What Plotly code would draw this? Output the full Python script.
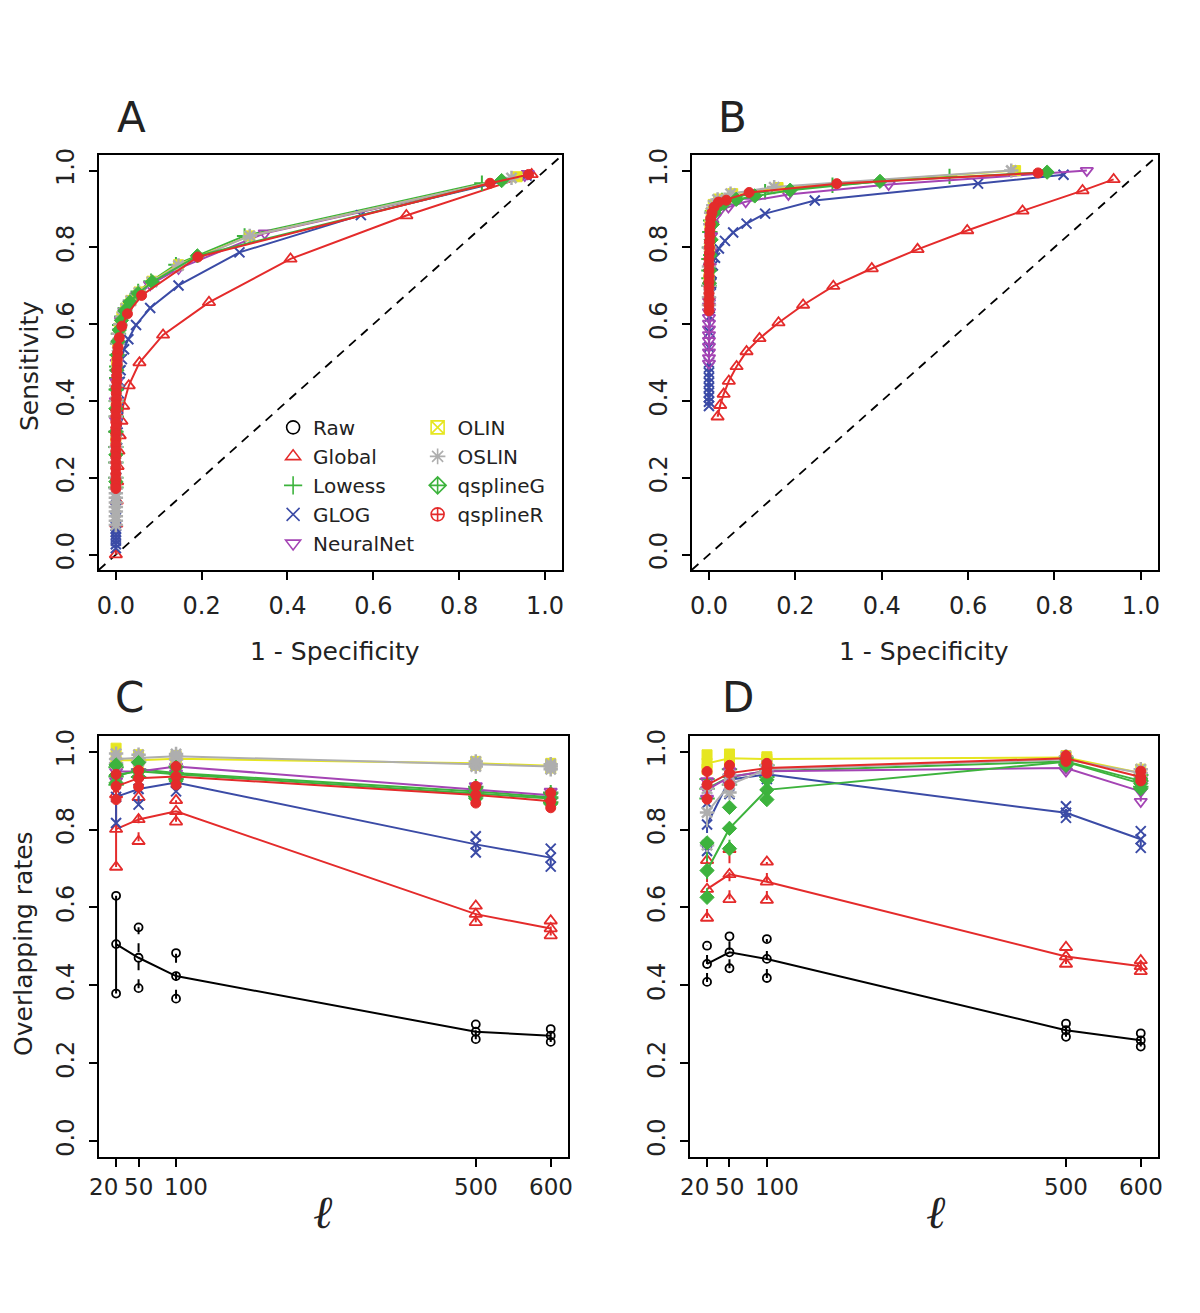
import plotly.graph_objects as go

# ---------------- data ----------------
METHODS = ["Raw", "Global", "Lowess", "GLOG", "NeuralNet", "OLIN", "OSLIN", "qsplineG", "qsplineR"]

# Panel A (ROC)
A_GLOBAL_X = [0.969, 0.677, 0.407, 0.217, 0.110, 0.055, 0.030, 0.017, 0.013, 0.009, 0.006, 0.004, 0.003, 0.002, 0.001, 0.000]
A_GLOBAL_Y = [0.990, 0.883, 0.770, 0.657, 0.572, 0.500, 0.440, 0.387, 0.348, 0.310, 0.270, 0.230, 0.190, 0.140, 0.080, 0.000]
A_LOWESS_X = [0.853, 0.300, 0.140, 0.082, 0.052, 0.034, 0.022, 0.014, 0.009, 0.006, 0.004, 0.003, 0.002, 0.002, 0.001, 0.001, 0.001, 0.000, 0.000, 0.000, 0.000, 0.000]
A_LOWESS_Y = [0.967, 0.830, 0.755, 0.712, 0.685, 0.662, 0.642, 0.620, 0.598, 0.575, 0.550, 0.520, 0.490, 0.460, 0.430, 0.400, 0.360, 0.320, 0.280, 0.240, 0.200, 0.175]
A_GLOG_X = [0.957, 0.571, 0.288, 0.146, 0.080, 0.047, 0.029, 0.019, 0.014, 0.011, 0.009, 0.007, 0.005, 0.004, 0.003, 0.002, 0.001, 0.000, 0.000, 0.000, 0.000, 0.000, 0.000, 0.000, 0.000, 0.000, 0.000, 0.000]
A_GLOG_Y = [0.987, 0.884, 0.787, 0.701, 0.642, 0.598, 0.561, 0.535, 0.509, 0.480, 0.450, 0.420, 0.380, 0.340, 0.300, 0.250, 0.200, 0.150, 0.120, 0.095, 0.075, 0.068, 0.060, 0.052, 0.044, 0.036, 0.027, 0.017]
A_NEURALNET_X = [0.960, 0.953, 0.347, 0.146, 0.080, 0.050, 0.032, 0.020, 0.012, 0.007, 0.004, 0.002, 0.001, 0.000, 0.000]
A_NEURALNET_Y = [0.992, 0.987, 0.837, 0.745, 0.703, 0.675, 0.653, 0.633, 0.610, 0.580, 0.550, 0.500, 0.450, 0.400, 0.350]
A_OLIN_X = [0.935, 0.312, 0.146, 0.084, 0.054, 0.035, 0.023, 0.014, 0.008, 0.004, 0.002, 0.001, 0.000]
A_OLIN_Y = [0.984, 0.830, 0.755, 0.712, 0.684, 0.662, 0.642, 0.620, 0.590, 0.550, 0.500, 0.400, 0.300]
A_OSLIN_X = [0.922, 0.312, 0.146, 0.084, 0.054, 0.035, 0.023, 0.015, 0.010, 0.006, 0.004, 0.003, 0.002, 0.001, 0.001,
             0.000, 0.000, 0.000, 0.000, 0.000, 0.000, 0.000, 0.000, 0.000, 0.000, 0.000, 0.000, 0.000, 0.000]
A_OSLIN_Y = [0.981, 0.830, 0.753, 0.710, 0.682, 0.661, 0.641, 0.620, 0.600, 0.575, 0.550, 0.520, 0.480, 0.440, 0.400,
             0.360, 0.320, 0.280, 0.240, 0.200, 0.172, 0.160, 0.148, 0.136, 0.124, 0.112, 0.100, 0.088, 0.077]
A_QSPLINEG_X = [0.899, 0.190, 0.085, 0.052, 0.033, 0.021, 0.013, 0.008, 0.005, 0.003, 0.002, 0.001, 0.000, 0.000, 0.000, 0.000]
A_QSPLINEG_Y = [0.974, 0.778, 0.710, 0.680, 0.658, 0.635, 0.610, 0.585, 0.555, 0.520, 0.480, 0.430, 0.380, 0.320, 0.260, 0.190]
A_QSPLINER_X = [0.962, 0.872, 0.191, 0.060, 0.027, 0.014, 0.008, 0.005,
                0.004, 0.003, 0.003, 0.002, 0.002, 0.002, 0.001, 0.001, 0.001, 0.001,
                0.000, 0.000, 0.000, 0.000, 0.000, 0.000, 0.000, 0.000, 0.000, 0.000, 0.000, 0.000, 0.000, 0.000, 0.000]
A_QSPLINER_Y = [0.990, 0.967, 0.775, 0.675, 0.627, 0.595, 0.565, 0.540,
                0.525, 0.510, 0.495, 0.480, 0.465, 0.450, 0.435, 0.420, 0.405, 0.390,
                0.375, 0.360, 0.345, 0.330, 0.315, 0.300, 0.285, 0.270, 0.255, 0.240, 0.225, 0.210, 0.195, 0.180, 0.172]

# Panel B (ROC)
B_GLOBAL_X = [0.937, 0.865, 0.726, 0.598, 0.483, 0.377, 0.288, 0.218, 0.161, 0.117, 0.087, 0.064, 0.046, 0.034, 0.026, 0.020]
B_GLOBAL_Y = [0.977, 0.948, 0.895, 0.844, 0.795, 0.745, 0.699, 0.650, 0.604, 0.563, 0.529, 0.490, 0.452, 0.418, 0.389, 0.359]
B_LOWESS_X = [0.557, 0.286, 0.130, 0.060, 0.030, 0.015, 0.008, 0.004, 0.002, 0.001, 0.000, 0.000, 0.000, 0.000]
B_LOWESS_Y = [0.985, 0.962, 0.945, 0.932, 0.922, 0.910, 0.895, 0.870, 0.840, 0.800, 0.770, 0.740, 0.720, 0.700]
B_GLOG_X = [0.821, 0.623, 0.245, 0.130, 0.087, 0.056, 0.037, 0.023, 0.014, 0.009, 0.006, 0.005, 0.004, 0.003, 0.002, 0.001,
            0.000, 0.000, 0.000, 0.000, 0.000, 0.000, 0.000, 0.000, 0.000, 0.000, 0.000]
B_GLOG_Y = [0.989, 0.966, 0.922, 0.888, 0.862, 0.839, 0.817, 0.797, 0.773, 0.753, 0.732, 0.706, 0.680, 0.650, 0.620, 0.580,
            0.540, 0.500, 0.487, 0.474, 0.461, 0.448, 0.435, 0.422, 0.410, 0.398, 0.387]
B_NEURALNET_X = [0.875, 0.416, 0.184, 0.085, 0.045, 0.025, 0.014, 0.008, 0.005, 0.003, 0.002, 0.001, 0.000,
                 0.000, 0.000, 0.000, 0.000, 0.000, 0.000, 0.000, 0.000, 0.000, 0.000, 0.000]
B_NEURALNET_Y = [1.000, 0.964, 0.938, 0.919, 0.905, 0.896, 0.880, 0.860, 0.830, 0.790, 0.750, 0.700, 0.660,
                 0.647, 0.632, 0.617, 0.602, 0.587, 0.572, 0.557, 0.542, 0.527, 0.512, 0.498]
B_OLIN_X = [0.710, 0.160, 0.055, 0.022, 0.010, 0.005, 0.002, 0.001, 0.000]
B_OLIN_Y = [1.000, 0.956, 0.940, 0.926, 0.912, 0.890, 0.860, 0.800, 0.720]
B_OSLIN_X = [0.700, 0.151, 0.050, 0.020, 0.010, 0.005, 0.003, 0.001, 0.000, 0.000, 0.000, 0.000]
B_OSLIN_Y = [1.000, 0.957, 0.940, 0.925, 0.910, 0.890, 0.860, 0.800, 0.750, 0.700, 0.670, 0.650]
B_QSPLINEG_X = [0.783, 0.396, 0.188, 0.106, 0.063, 0.035, 0.020, 0.012, 0.008, 0.005, 0.003, 0.002, 0.001]
B_QSPLINEG_Y = [0.996, 0.972, 0.949, 0.934, 0.925, 0.915, 0.905, 0.890, 0.860, 0.820, 0.780, 0.740, 0.707]
B_QSPLINER_X = [0.762, 0.296, 0.093, 0.040, 0.022, 0.012, 0.007, 0.004, 0.003, 0.002, 0.002, 0.001, 0.001, 0.001,
                0.000, 0.000, 0.000, 0.000, 0.000, 0.000, 0.000, 0.000, 0.000, 0.000]
B_QSPLINER_Y = [0.994, 0.966, 0.943, 0.923, 0.918, 0.905, 0.890, 0.875, 0.860, 0.845, 0.830, 0.815, 0.800, 0.785,
                0.770, 0.755, 0.740, 0.725, 0.710, 0.695, 0.680, 0.665, 0.650, 0.635]

# Panels C and D (overlapping rates vs l)
L_VALUES = [20, 50, 100, 500, 600]
L_TICKS = ["20", "50", "100", "500", "600"]

C_RAW = [0.506, 0.471, 0.424, 0.281, 0.271]
C_RAW_LO = [0.379, 0.393, 0.366, 0.262, 0.255]
C_RAW_HI = [0.630, 0.549, 0.483, 0.300, 0.288]
C_GLOBAL = [0.801, 0.826, 0.847, 0.583, 0.546]
C_GLOBAL_LO = [0.704, 0.770, 0.820, 0.562, 0.528]
C_GLOBAL_HI = [0.890, 0.883, 0.875, 0.604, 0.566]
C_LOWESS = [0.936, 0.955, 0.945, 0.898, 0.883]
C_LOWESS_LO = [0.915, 0.935, 0.930, 0.885, 0.870]
C_LOWESS_HI = [0.960, 0.975, 0.962, 0.910, 0.895]
C_GLOG = [0.884, 0.904, 0.921, 0.762, 0.728]
C_GLOG_LO = [0.817, 0.864, 0.898, 0.741, 0.705]
C_GLOG_HI = [0.950, 0.945, 0.945, 0.783, 0.751]
C_NEURALNET = [0.949, 0.949, 0.962, 0.902, 0.888]
C_NEURALNET_LO = [0.925, 0.930, 0.945, 0.890, 0.875]
C_NEURALNET_HI = [0.965, 0.965, 0.975, 0.912, 0.898]
C_OLIN = [0.978, 0.978, 0.982, 0.970, 0.964]
C_OLIN_LO = [0.970, 0.972, 0.976, 0.965, 0.958]
C_OLIN_HI = [1.009, 0.992, 0.990, 0.975, 0.970]
C_OSLIN = [0.981, 0.983, 0.988, 0.968, 0.962]
C_OSLIN_LO = [0.970, 0.975, 0.980, 0.962, 0.955]
C_OSLIN_HI = [0.995, 0.992, 0.994, 0.975, 0.968]
C_QSPLINEG = [0.940, 0.950, 0.942, 0.893, 0.880]
C_QSPLINEG_LO = [0.920, 0.935, 0.925, 0.880, 0.866]
C_QSPLINEG_HI = [0.966, 0.972, 0.960, 0.906, 0.892]
C_QSPLINER = [0.911, 0.932, 0.936, 0.889, 0.873]
C_QSPLINER_LO = [0.877, 0.910, 0.915, 0.868, 0.856]
C_QSPLINER_HI = [0.942, 0.952, 0.962, 0.911, 0.894]

D_RAW = [0.455, 0.485, 0.468, 0.285, 0.259]
D_RAW_LO = [0.409, 0.444, 0.419, 0.268, 0.243]
D_RAW_HI = [0.502, 0.526, 0.519, 0.302, 0.277]
D_GLOBAL = [0.647, 0.685, 0.666, 0.474, 0.449]
D_GLOBAL_LO = [0.573, 0.621, 0.619, 0.455, 0.436]
D_GLOBAL_HI = [0.721, 0.749, 0.717, 0.498, 0.464]
D_LOWESS = [0.905, 0.935, 0.950, 0.975, 0.925]
D_LOWESS_LO = [0.880, 0.915, 0.935, 0.968, 0.910]
D_LOWESS_HI = [0.930, 0.955, 0.965, 0.985, 0.940]
D_GLOG = [0.813, 0.928, 0.942, 0.843, 0.775]
D_GLOG_LO = [0.745, 0.891, 0.930, 0.830, 0.753]
D_GLOG_HI = [0.868, 0.950, 0.955, 0.860, 0.796]
D_NEURALNET = [0.902, 0.935, 0.950, 0.958, 0.898]
D_NEURALNET_LO = [0.880, 0.915, 0.940, 0.950, 0.872]
D_NEURALNET_HI = [0.925, 0.950, 0.960, 0.965, 0.915]
D_OLIN = [0.970, 0.983, 0.981, 0.985, 0.945]
D_OLIN_LO = [0.955, 0.975, 0.975, 0.980, 0.935]
D_OLIN_HI = [0.992, 0.994, 0.987, 0.990, 0.955]
D_OSLIN = [0.844, 0.915, 0.955, 0.980, 0.945]
D_OSLIN_LO = [0.760, 0.895, 0.945, 0.975, 0.935]
D_OSLIN_HI = [0.905, 0.940, 0.965, 0.988, 0.955]
D_QSPLINEG = [0.695, 0.803, 0.902, 0.974, 0.918]
D_QSPLINEG_LO = [0.626, 0.751, 0.877, 0.965, 0.905]
D_QSPLINEG_HI = [0.766, 0.857, 0.928, 0.982, 0.930]
D_QSPLINER = [0.915, 0.945, 0.958, 0.983, 0.935]
D_QSPLINER_LO = [0.878, 0.915, 0.945, 0.975, 0.925]
D_QSPLINER_HI = [0.949, 0.965, 0.970, 0.990, 0.950]

ROC_TICKS = [0.0, 0.2, 0.4, 0.6, 0.8, 1.0]
ROC_TICKTEXT = ["0.0", "0.2", "0.4", "0.6", "0.8", "1.0"]

# ---------------- styles ----------------
COLORS = {"Raw": "#000000", "Global": "#E42B2B", "Lowess": "#3DB33D", "GLOG": "#3B4BA6",
          "NeuralNet": "#A444B4", "OLIN": "#E6E620", "OSLIN": "#AEAEAE", "qsplineG": "#3DB33D",
          "qsplineR": "#E42B2B"}
DATA_SYM = {"Raw": ("circle-open", 8, 1.8), "Global": ("triangle-up-open", 11, 1.8),
            "Lowess": ("cross-thin-open", 11, 2), "GLOG": ("x-thin-open", 10, 2),
            "NeuralNet": ("triangle-down-open", 11, 1.8), "OLIN": ("square", 10, 1),
            "OSLIN": ("asterisk-open", 12, 2.5), "qsplineG": ("diamond", 11, 1),
            "qsplineR": ("circle", 10, 1)}
LEG_SYM = {"Raw": "circle-open", "Global": "triangle-up-open", "Lowess": "cross-thin-open",
           "GLOG": "x-thin-open", "NeuralNet": "triangle-down-open", "OLIN": "square-x-open",
           "OSLIN": "asterisk-open", "qsplineG": "diamond-cross-open", "qsplineR": "circle-cross-open"}

ROC_A = {"Global": (A_GLOBAL_X, A_GLOBAL_Y), "Lowess": (A_LOWESS_X, A_LOWESS_Y), "GLOG": (A_GLOG_X, A_GLOG_Y),
         "NeuralNet": (A_NEURALNET_X, A_NEURALNET_Y), "OLIN": (A_OLIN_X, A_OLIN_Y), "OSLIN": (A_OSLIN_X, A_OSLIN_Y),
         "qsplineG": (A_QSPLINEG_X, A_QSPLINEG_Y), "qsplineR": (A_QSPLINER_X, A_QSPLINER_Y)}
ROC_B = {"Global": (B_GLOBAL_X, B_GLOBAL_Y), "Lowess": (B_LOWESS_X, B_LOWESS_Y), "GLOG": (B_GLOG_X, B_GLOG_Y),
         "NeuralNet": (B_NEURALNET_X, B_NEURALNET_Y), "OLIN": (B_OLIN_X, B_OLIN_Y), "OSLIN": (B_OSLIN_X, B_OSLIN_Y),
         "qsplineG": (B_QSPLINEG_X, B_QSPLINEG_Y), "qsplineR": (B_QSPLINER_X, B_QSPLINER_Y)}
OVL_C = {"Raw": (C_RAW, C_RAW_LO, C_RAW_HI), "Global": (C_GLOBAL, C_GLOBAL_LO, C_GLOBAL_HI),
         "Lowess": (C_LOWESS, C_LOWESS_LO, C_LOWESS_HI), "GLOG": (C_GLOG, C_GLOG_LO, C_GLOG_HI),
         "NeuralNet": (C_NEURALNET, C_NEURALNET_LO, C_NEURALNET_HI), "OLIN": (C_OLIN, C_OLIN_LO, C_OLIN_HI),
         "OSLIN": (C_OSLIN, C_OSLIN_LO, C_OSLIN_HI), "qsplineG": (C_QSPLINEG, C_QSPLINEG_LO, C_QSPLINEG_HI),
         "qsplineR": (C_QSPLINER, C_QSPLINER_LO, C_QSPLINER_HI)}
OVL_D = {"Raw": (D_RAW, D_RAW_LO, D_RAW_HI), "Global": (D_GLOBAL, D_GLOBAL_LO, D_GLOBAL_HI),
         "Lowess": (D_LOWESS, D_LOWESS_LO, D_LOWESS_HI), "GLOG": (D_GLOG, D_GLOG_LO, D_GLOG_HI),
         "NeuralNet": (D_NEURALNET, D_NEURALNET_LO, D_NEURALNET_HI), "OLIN": (D_OLIN, D_OLIN_LO, D_OLIN_HI),
         "OSLIN": (D_OSLIN, D_OSLIN_LO, D_OSLIN_HI), "qsplineG": (D_QSPLINEG, D_QSPLINEG_LO, D_QSPLINEG_HI),
         "qsplineR": (D_QSPLINER, D_QSPLINER_LO, D_QSPLINER_HI)}

ROC_RANGE = [-0.04, 1.04]
L_RANGE = [20 - 0.04 * 580, 600 + 0.04 * 580]
FONT = "DejaVu Sans"
# page body has an 8px margin; size the figure so it fits in the 1200x1313 window
OFF = 8
Y_NUDGE = 4
W, H = 1200 - 2 * OFF, 1313 - 2 * OFF


def fx(px):
    return (px - OFF) / W


def fy(py):
    return 1 - (py - OFF - Y_NUDGE) / H


fig = go.Figure()


def marker_for(m):
    sym, size, lw = DATA_SYM[m]
    return dict(symbol=sym, size=size, color=COLORS[m], line=dict(color=COLORS[m], width=lw))


# ROC panels
for data, xa, ya in [(ROC_A, "x", "y"), (ROC_B, "x2", "y2")]:
    fig.add_trace(go.Scatter(x=ROC_RANGE, y=ROC_RANGE, mode="lines", xaxis=xa, yaxis=ya, showlegend=False,
                             line=dict(color="black", width=1.8, dash="9px,7px"), hoverinfo="skip"))
    for m in METHODS[1:]:
        xs, ys = data[m]
        fig.add_trace(go.Scatter(x=xs, y=ys, mode="lines+markers", xaxis=xa, yaxis=ya, showlegend=False,
                                 line=dict(color=COLORS[m], width=2), marker=marker_for(m), name=m))

# Overlap panels
VDASH = {"x3": ["solid", "dash", "dash", "dash", "dash"], "x4": ["dash", "dash", "dash", "dash", "dash"]}
for data, xa, ya in [(OVL_C, "x3", "y3"), (OVL_D, "x4", "y4")]:
    for m in METHODS:
        mid, lo, hi = data[m]
        for j, lv in enumerate(L_VALUES):
            fig.add_trace(go.Scatter(x=[lv, lv], y=[lo[j], hi[j]], mode="lines", xaxis=xa, yaxis=ya,
                                     showlegend=False, hoverinfo="skip",
                                     line=dict(color=COLORS[m], width=2, dash=VDASH[xa][j])))
        fig.add_trace(go.Scatter(x=L_VALUES, y=mid, mode="lines+markers", xaxis=xa, yaxis=ya, showlegend=False,
                                 line=dict(color=COLORS[m], width=2), marker=marker_for(m), name=m))
        fig.add_trace(go.Scatter(x=L_VALUES + L_VALUES, y=lo + hi, mode="markers", xaxis=xa, yaxis=ya,
                                 showlegend=False, marker=marker_for(m), name=m))

# Legend entries
for i, m in enumerate(METHODS):
    fig.add_trace(go.Scatter(x=[None], y=[None], mode="markers", name=m, xaxis="x", yaxis="y",
                             legend="legend" if i < 5 else "legend2",
                             marker=dict(symbol=LEG_SYM[m], size=13, color=COLORS[m],
                                         line=dict(color=COLORS[m], width=1.6))))


def ax(domain, rng, tickvals, ticktext, angle=0, anchor=None, labels=True):
    return dict(domain=domain, range=rng, tickmode="array", tickvals=tickvals, ticktext=ticktext,
                showline=True, linecolor="black", linewidth=1.6, mirror=True, ticks="outside",
                ticklen=8, tickwidth=1.5, tickcolor="black", showgrid=False, zeroline=False,
                tickfont=dict(family=FONT, size=24, color="#222"), tickangle=angle,
                ticklabelstandoff=5, anchor=anchor, fixedrange=True, showticklabels=labels)


XA = [fx(97), fx(562)]
XB = [fx(692), fx(1160)]
XC = [fx(97), fx(568)]
XD = [fx(690), fx(1160)]
YTOP = [fy(570), fy(153)]
YBOT = [fy(1160), fy(737)]

fig.update_layout(
    width=W, height=H, margin=dict(l=0, r=0, t=0, b=0),
    paper_bgcolor="white", plot_bgcolor="white",
    font=dict(family=FONT, color="#222"),
    xaxis=ax(XA, ROC_RANGE, ROC_TICKS, ROC_TICKTEXT, anchor="y"),
    yaxis=ax(YTOP, ROC_RANGE, ROC_TICKS, ROC_TICKTEXT, angle=-90, anchor="x"),
    xaxis2=ax(XB, ROC_RANGE, ROC_TICKS, ROC_TICKTEXT, anchor="y2"),
    yaxis2=ax(YTOP, ROC_RANGE, ROC_TICKS, ROC_TICKTEXT, angle=-90, anchor="x2"),
    xaxis3=ax(XC, L_RANGE, L_VALUES, L_TICKS, anchor="y3", labels=False),
    yaxis3=ax(YBOT, ROC_RANGE, ROC_TICKS, ROC_TICKTEXT, angle=-90, anchor="x3"),
    xaxis4=ax(XD, L_RANGE, L_VALUES, L_TICKS, anchor="y4", labels=False),
    yaxis4=ax(YBOT, ROC_RANGE, ROC_TICKS, ROC_TICKTEXT, angle=-90, anchor="x4"),
    legend=dict(x=fx(272), y=fy(407), xanchor="left", yanchor="top", bgcolor="rgba(0,0,0,0)",
                font=dict(family=FONT, size=20, color="#222"), tracegroupgap=0, itemwidth=30),
    legend2=dict(x=fx(417), y=fy(407), xanchor="left", yanchor="top", bgcolor="rgba(0,0,0,0)",
                 font=dict(family=FONT, size=20, color="#222"), tracegroupgap=0, itemwidth=30),
)

ann = []
for txt, x, y in [("A", 130, 115), ("B", 733, 115), ("C", 128, 698), ("D", 738, 698)]:
    ann.append(dict(text=txt, x=fx(x), y=fy(y), xref="paper", yref="paper", showarrow=False,
                    xanchor="center", yanchor="middle", font=dict(family=FONT, size=42, color="#222")))
for x in [334, 925]:
    ann.append(dict(text="1 - Specificity", x=fx(x), y=fy(652), xref="paper", yref="paper", showarrow=False,
                    xanchor="center", yanchor="middle", font=dict(family=FONT, size=25, color="#222")))
for x in [322, 937]:
    ann.append(dict(text="<i>ℓ</i>", x=fx(x), y=fy(1215), xref="paper", yref="paper", showarrow=False,
                    xanchor="center", yanchor="middle", font=dict(family="DejaVu Serif", size=46, color="#222")))
ann.append(dict(text="Sensitivity", x=fx(27), y=fy(365), xref="paper", yref="paper", showarrow=False,
                textangle=-90, xanchor="center", yanchor="middle", font=dict(family=FONT, size=25, color="#222")))
ann.append(dict(text="Overlapping rates", x=fx(22), y=fy(945), xref="paper", yref="paper", showarrow=False,
                textangle=-90, xanchor="center", yanchor="middle", font=dict(family=FONT, size=25, color="#222")))
# x tick labels of C and D, nudged apart like the reference where 20/50/100 crowd together
TICK_SHIFT = [-13, 0, 10, 0, 0]
for xa in ["x3", "x4"]:
    for lv, lab, sh in zip(L_VALUES, L_TICKS, TICK_SHIFT):
        ann.append(dict(text=lab, x=lv, y=fy(1190), xref=xa, yref="paper", showarrow=False, xshift=sh,
                        xanchor="center", yanchor="middle", font=dict(family=FONT, size=23, color="#222")))
fig.update_layout(annotations=ann)

fig.write_html("out.html")
